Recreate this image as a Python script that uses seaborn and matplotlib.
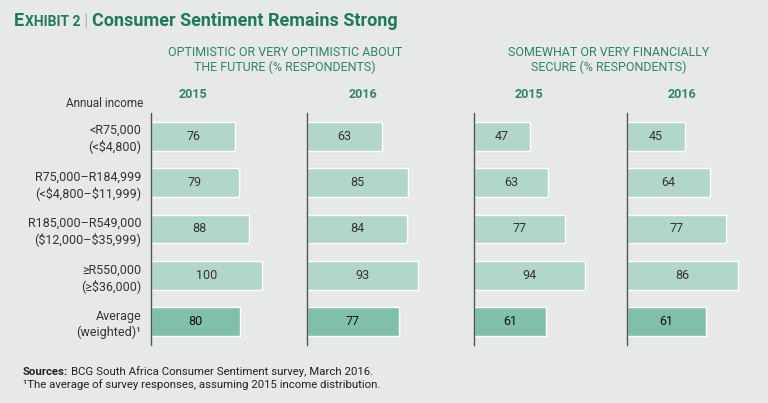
import matplotlib
matplotlib.use("Agg")
import matplotlib.pyplot as plt
import seaborn as sns

# data
incomes = ["<R75,000\n(<\\$4,800)",
           "R75,000\u2013R184,999\n(<\\$4,800\u2013\\$11,999)",
           "R185,000\u2013R549,000\n(\\$12,000\u2013\\$35,999)",
           "\u2265R550,000\n(\u2265\\$36,000)",
           "Average\n(weighted)\u00b9"]
optimistic_2015 = [76, 79, 88, 100, 80]
optimistic_2016 = [63, 85, 84, 93, 77]
secure_2015 = [47, 63, 77, 94, 61]
secure_2016 = [45, 64, 77, 86, 61]
years = ["2015", "2016", "2015", "2016"]

BG = "#e7e8ea"
LIGHT = "#b2d6c9"
DARK = "#80bfab"
GREEN = "#1f7a5a"
SUB = "#2f8566"
TXT = "#333333"

sns.set_style("white")
plt.rcParams["font.family"] = ["Roboto", "DejaVu Sans"]

W, H = 768, 403
fig = plt.figure(figsize=(W / 100, H / 100), dpi=100, facecolor=BG)

series = [optimistic_2015, optimistic_2016, secure_2015, secure_2016]
lefts = [151, 307, 474, 627]
year_x = [193, 363, 529, 682]
palette = [LIGHT] * 4 + [DARK]

for k, (vals, lx) in enumerate(zip(series, lefts)):
    ax = fig.add_axes([lx / W, 1 - 345 / H, 134 / W, 232 / H])
    ax.set_facecolor(BG)
    sns.barplot(x=vals, y=incomes, hue=incomes, palette=palette, legend=False,
                orient="h", width=0.62, saturation=1, ax=ax)
    # each panel is scaled so its longest bar is ~111 px
    ax.set_xlim(0, max(vals) * 134 / 111)
    ax.set_ylim(4.5, -0.5)
    for s in ["top", "right", "bottom"]:
        ax.spines[s].set_visible(False)
    ax.spines["left"].set_color("#555555")
    ax.spines["left"].set_linewidth(1)
    ax.set_xticks([])
    ax.set_xlabel("")
    ax.set_ylabel("")
    ax.tick_params(axis="y", length=0, pad=7)
    if k == 0:
        ax.set_yticks(range(len(incomes)))
        ax.set_yticklabels(incomes, fontsize=9, color=TXT)
    else:
        ax.set_yticks([])
    for i, v in enumerate(vals):
        ax.text(v / 2, i, str(v), ha="center", va="center", fontsize=9,
                color="#111111" if i == 4 else TXT)
    fig.text(year_x[k] / W, 1 - 95 / H, years[k], ha="center", va="center",
             fontsize=9, fontweight="bold", color=SUB)

# column headers
fig.text(285 / W, 1 - 60 / H, "OPTIMISTIC OR VERY OPTIMISTIC ABOUT\nTHE FUTURE (% RESPONDENTS)",
         ha="center", va="center", fontsize=9, color=SUB, linespacing=1.2)
fig.text(609 / W, 1 - 60 / H, "SOMEWHAT OR VERY FINANCIALLY\nSECURE (% RESPONDENTS)",
         ha="center", va="center", fontsize=9, color=SUB, linespacing=1.2)
fig.text(143 / W, 1 - 103 / H, "Annual income", ha="right", va="center",
         fontsize=8.5, color=TXT)

# title with small caps "Exhibit"
r = fig.canvas.get_renderer()
y0 = 1 - 26 / H
x = 14 / W
pieces = [("E", 13, "bold"), ("XHIBIT 2", 10, "bold"), (" | ", 13, "light"),
          ("Consumer Sentiment Remains Strong", 13, "bold")]
for s, fs, fw in pieces:
    t = fig.text(x, y0, s, ha="left", va="baseline", fontsize=fs,
                 fontweight=fw, color=GREEN)
    x = t.get_window_extent(r).x1 / W + (0.5 / W if s == "E" else 0)

# footnotes
t = fig.text(23 / W, 1 - 372 / H, "Sources:", ha="left", va="center",
             fontsize=8.2, fontweight="bold", color="#222222")
x = t.get_window_extent(r).x1 / W + 3 / W
fig.text(x, 1 - 372 / H, "BCG South Africa Consumer Sentiment survey, March 2016.",
         ha="left", va="center", fontsize=8.2, color="#222222")
fig.text(23 / W, 1 - 385 / H, "\u00b9The average of survey responses, assuming 2015 income distribution.",
         ha="left", va="center", fontsize=8.2, color="#222222")

fig.savefig("out.png", dpi=100, facecolor=BG)
